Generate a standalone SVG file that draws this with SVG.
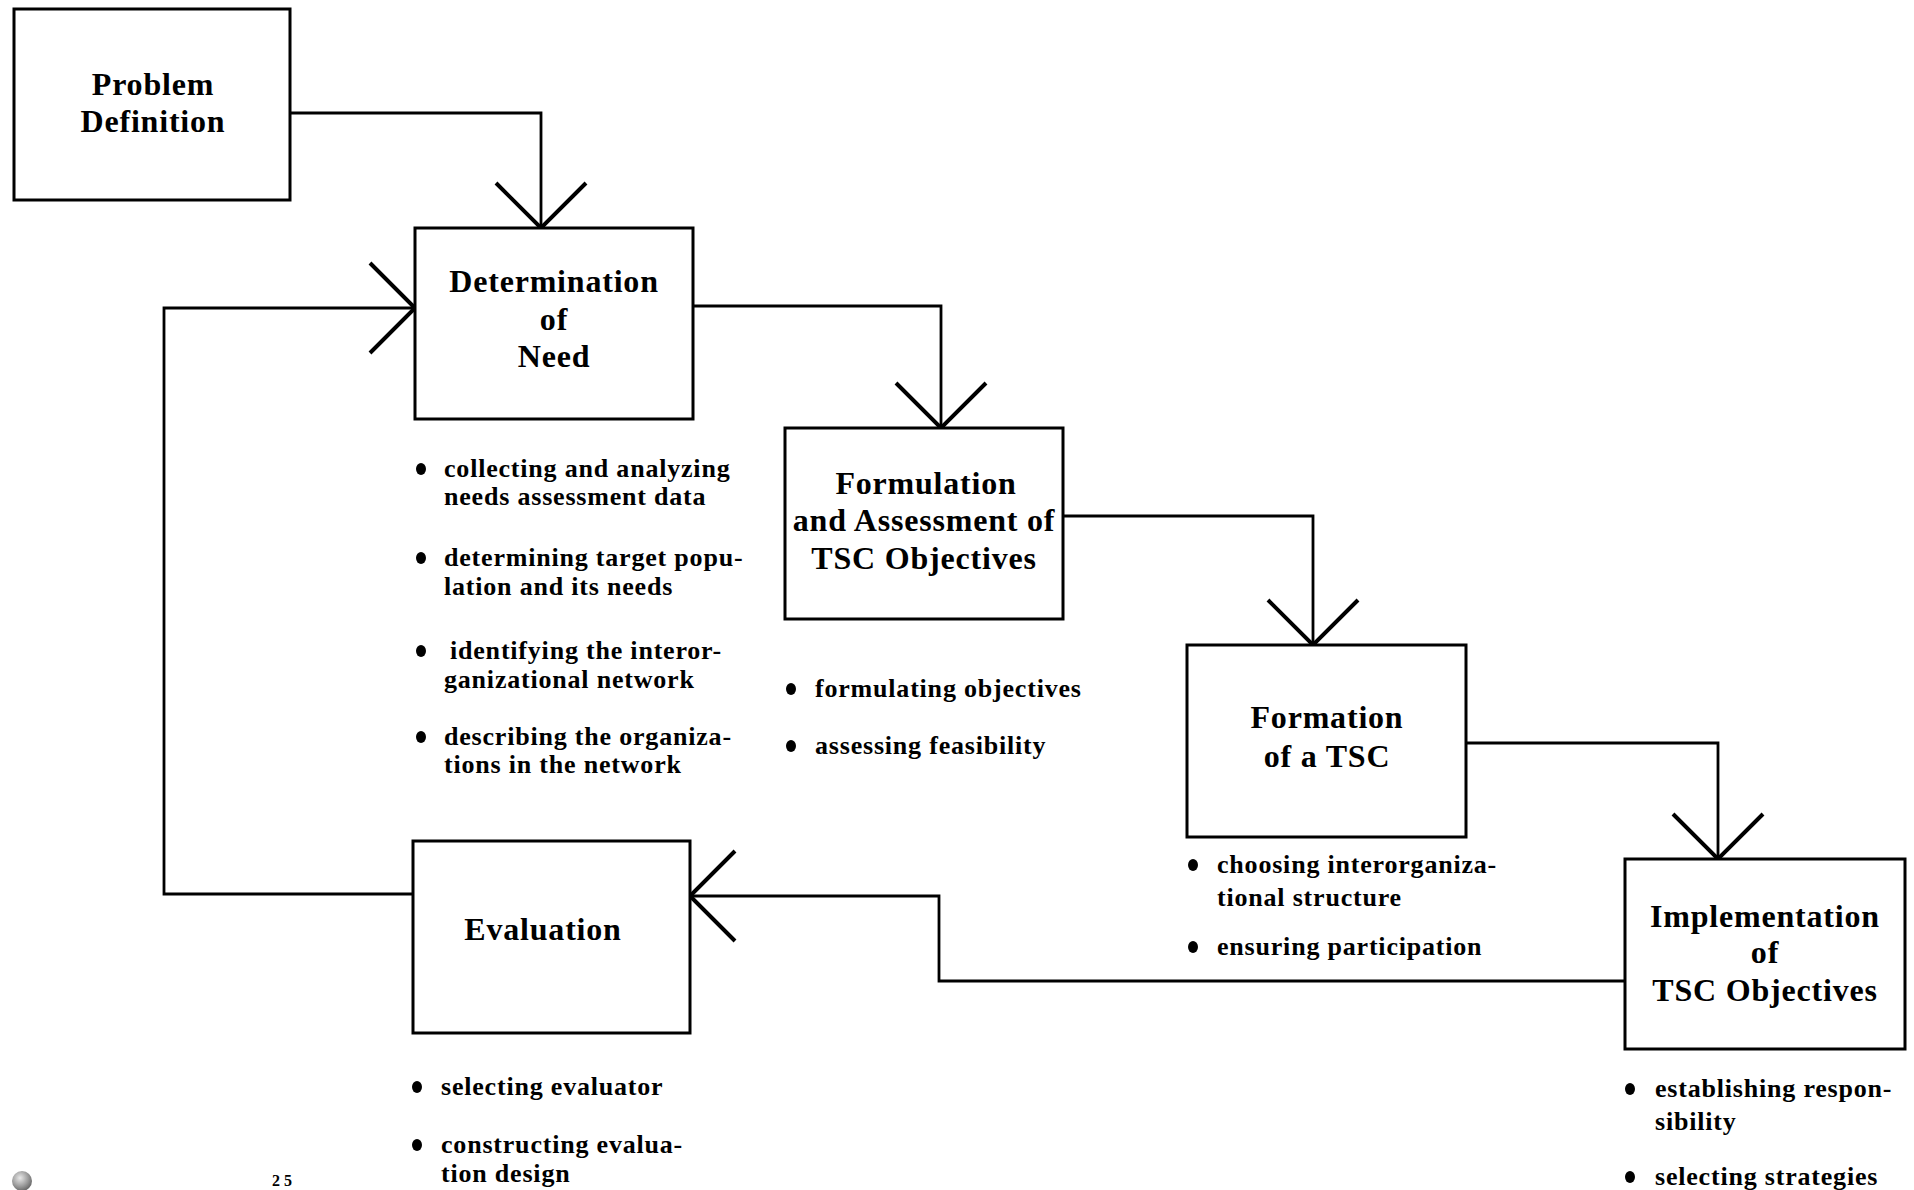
<svg xmlns="http://www.w3.org/2000/svg" width="1914" height="1190" viewBox="0 0 1914 1190">
<style>
.box{fill:#fff;stroke:#000;stroke-width:3}
.lbl{font-family:"Liberation Serif","Times New Roman",serif;font-weight:bold;font-size:32px;letter-spacing:0.8px;fill:#000;text-anchor:middle}
.bt{font-family:"Liberation Serif","Times New Roman",serif;font-weight:bold;font-size:26px;letter-spacing:0.8px;fill:#000}
.dot{fill:#000}
.con{fill:none;stroke:#000;stroke-width:2.8;stroke-linejoin:miter}
.pg{font-family:"Liberation Serif",serif;font-weight:bold;font-size:16px;letter-spacing:4px;fill:#000}
</style>
<defs>
<marker id="ah" markerUnits="userSpaceOnUse" markerWidth="100" markerHeight="100" refX="0" refY="0" orient="auto" overflow="visible">
<path d="M-45,-45 L0,0 L-45,45" fill="none" stroke="#000" stroke-width="4"/>
</marker>
<radialGradient id="globe" cx="0.4" cy="0.35" r="0.7">
<stop offset="0" stop-color="#e8e8e8"/>
<stop offset="0.6" stop-color="#9a9a9a"/>
<stop offset="1" stop-color="#606060"/>
</radialGradient>
</defs>
<rect width="1914" height="1190" fill="#fff"/>

<g id="connectors">
<path class="con" d="M290,113 H541 V228" marker-end="url(#ah)"/>
<path class="con" d="M693,306 H941 V428" marker-end="url(#ah)"/>
<path class="con" d="M1063,516 H1313 V645" marker-end="url(#ah)"/>
<path class="con" d="M1466,743 H1718 V859" marker-end="url(#ah)"/>
<path class="con" d="M1625,981 H939 V896 H690" marker-end="url(#ah)"/>
<path class="con" d="M413,894 H164 V308 H415" marker-end="url(#ah)"/>
</g>

<g id="problem-definition">
<rect class="box" x="14" y="9" width="276" height="191"/>
<text class="lbl" x="153" y="95">Problem</text>
<text class="lbl" x="153" y="132">Definition</text>
</g>

<g id="determination-of-need">
<rect class="box" x="415" y="228" width="278" height="191"/>
<text class="lbl" x="554" y="292">Determination</text>
<text class="lbl" x="554" y="330">of</text>
<text class="lbl" x="554" y="367">Need</text>
</g>

<g id="determination-activities">
<ellipse class="dot" cx="421" cy="469" rx="5" ry="6"/>
<text class="bt" x="444" y="477">collecting and analyzing</text>
<text class="bt" x="444" y="505">needs assessment data</text>
<ellipse class="dot" cx="421" cy="558" rx="5" ry="6"/>
<text class="bt" x="444" y="566">determining target popu-</text>
<text class="bt" x="444" y="595">lation and its needs</text>
<ellipse class="dot" cx="421" cy="651" rx="5" ry="6"/>
<text class="bt" x="450" y="659">identifying the interor-</text>
<text class="bt" x="444" y="688">ganizational network</text>
<ellipse class="dot" cx="421" cy="737" rx="5" ry="6"/>
<text class="bt" x="444" y="745">describing the organiza-</text>
<text class="bt" x="444" y="773">tions in the network</text>
</g>

<g id="formulation-assessment">
<rect class="box" x="785" y="428" width="278" height="191"/>
<text class="lbl" x="926" y="494">Formulation</text>
<text class="lbl" x="924" y="531">and Assessment of</text>
<text class="lbl" x="924" y="569">TSC Objectives</text>
</g>

<g id="formulation-activities">
<ellipse class="dot" cx="791" cy="689" rx="5" ry="6"/>
<text class="bt" x="815" y="697">formulating objectives</text>
<ellipse class="dot" cx="791" cy="746" rx="5" ry="6"/>
<text class="bt" x="815" y="754">assessing feasibility</text>
</g>

<g id="formation-tsc">
<rect class="box" x="1187" y="645" width="279" height="192"/>
<text class="lbl" x="1327" y="728">Formation</text>
<text class="lbl" x="1327" y="767">of a TSC</text>
</g>

<g id="formation-activities">
<ellipse class="dot" cx="1193" cy="865" rx="5" ry="6"/>
<text class="bt" x="1217" y="873">choosing interorganiza-</text>
<text class="bt" x="1217" y="906">tional structure</text>
<ellipse class="dot" cx="1193" cy="947" rx="5" ry="6"/>
<text class="bt" x="1217" y="955">ensuring participation</text>
</g>

<g id="implementation">
<rect class="box" x="1625" y="859" width="280" height="190"/>
<text class="lbl" x="1765" y="927">Implementation</text>
<text class="lbl" x="1765" y="963">of</text>
<text class="lbl" x="1765" y="1001">TSC Objectives</text>
</g>

<g id="implementation-activities">
<ellipse class="dot" cx="1630" cy="1089" rx="5" ry="6"/>
<text class="bt" x="1655" y="1097">establishing respon-</text>
<text class="bt" x="1655" y="1130">sibility</text>
<ellipse class="dot" cx="1630" cy="1177" rx="5" ry="6"/>
<text class="bt" x="1655" y="1185">selecting strategies</text>
</g>

<g id="evaluation">
<rect class="box" x="413" y="841" width="277" height="192"/>
<text class="lbl" x="543" y="940">Evaluation</text>
</g>

<g id="evaluation-activities">
<ellipse class="dot" cx="417" cy="1087" rx="5" ry="6"/>
<text class="bt" x="441" y="1095">selecting evaluator</text>
<ellipse class="dot" cx="417" cy="1145" rx="5" ry="6"/>
<text class="bt" x="441" y="1153">constructing evalua-</text>
<text class="bt" x="441" y="1182">tion design</text>
</g>

<g id="page-marks">
<circle cx="22" cy="1181" r="10" fill="url(#globe)"/>
<text class="pg" x="272" y="1186">25</text>
</g>
</svg>
